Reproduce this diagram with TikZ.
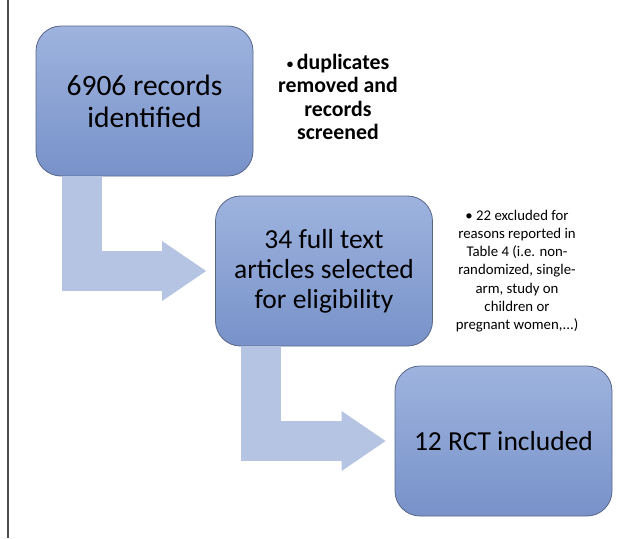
\documentclass[tikz,border=0pt]{standalone}
\usepackage{fontspec}
\setmainfont{Carlito}
\usepackage{tikz}
\usetikzlibrary{arrows.meta, positioning}
\definecolor{boxtop}{RGB}{158,179,222}
\definecolor{boxbottom}{RGB}{120,146,201}
\definecolor{boxline}{RGB}{88,103,138}
\definecolor{arrowfill}{RGB}{180,196,226}
\tikzstyle{stage} = [rectangle, rounded corners=25pt, minimum width=217pt, minimum height=150pt, align=center, draw=boxline, line width=0.8pt, top color=boxtop, bottom color=boxbottom, font=\fontsize{27.5}{30}\selectfont]
\tikzstyle{boldnote} = [align=center, font=\bfseries\fontsize{21.8}{23.5}\selectfont]
\tikzstyle{smallnote} = [align=center, font=\fontsize{14.8}{18.2}\selectfont]
\tikzstyle{bentarrow} = [line width=40pt, draw=arrowfill, -{Triangle[width=60pt,length=44pt,line width=0pt]}]
\newcommand{\smallbullet}{{\fontsize{13}{13}\selectfont\raisebox{0.15ex}{•}}\,}

\begin{document}
\begin{tikzpicture}[on grid]
        \useasboundingbox (0,0) rectangle (634pt,-538pt);
        \draw [gray!60!black, line width=1.5pt] (8pt,0) -- (8pt,-538pt);

        \node (records) [stage, font=\fontsize{29.5}{32}\selectfont] at (144.5pt,-101pt) {6906 records\\identified};
        \node (fulltext) [stage, below right=170pt and 179.5pt of records] {34 full text\\articles selected\\for eligibility};
        \node (rct) [stage, below right=170pt and 179.5pt of fulltext] {12 RCT included};

        \node (screen) [boldnote, right=193.5pt of records, yshift=4pt] {\smallbullet duplicates\\removed and\\records\\screened};
        \node (excl) [smallnote, right=193pt of fulltext] {• 22 excluded for\\reasons reported in\\Table 4 (i.e. non-\\randomized, single-\\arm, study on\\children or\\pregnant women,...)};

        % bent arrows
        \draw [bentarrow] ([xshift=46pt]records.south west) |- ([xshift=-9pt]fulltext.west);
        \draw [bentarrow] ([xshift=46pt]fulltext.south west) |- ([xshift=-9pt]rct.west);
    \end{tikzpicture}
\end{document}
